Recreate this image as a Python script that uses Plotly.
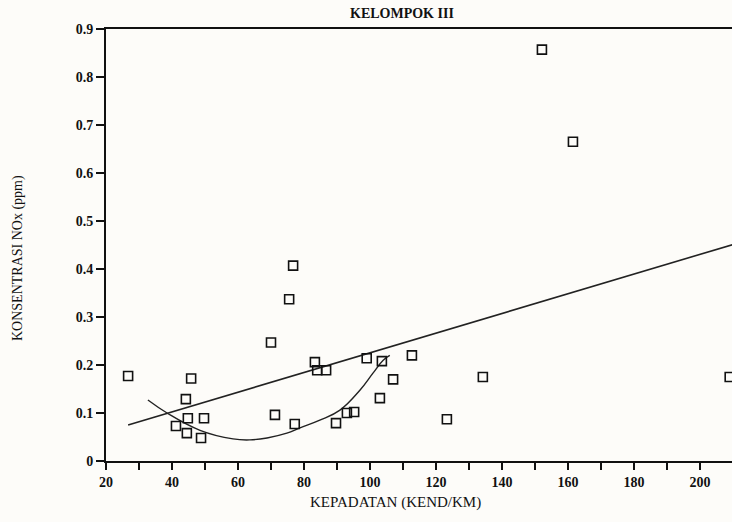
import plotly.graph_objects as go

# Kepadatan lalu lintas (kend/km) vs konsentrasi NOx, kelompok III
kepadatan = [26.7, 41.2, 44.2, 44.8, 44.5, 45.8, 48.8, 49.7, 70.0, 71.2,
             75.5, 76.7, 77.2, 83.3, 84.0, 86.7, 89.7, 93.0, 95.2, 99.0,
             103.6, 107.0, 103.0, 112.7, 123.3, 134.2, 152.1, 161.5, 209.0]
konsentrasi = [0.177, 0.073, 0.129, 0.089, 0.058, 0.172, 0.048, 0.089, 0.247, 0.096,
               0.337, 0.407, 0.077, 0.206, 0.189, 0.189, 0.079, 0.100, 0.102, 0.214,
               0.208, 0.170, 0.131, 0.220, 0.087, 0.175, 0.857, 0.665, 0.175]

# garis regresi linier (ujung-ujung garis)
linier_x = [26.7, 210.0]
linier_y = [0.075, 0.451]

# kurva regresi non-linier
kurva_x = [32.7, 38.5, 48.5, 58.5, 63.6, 68.8, 74.8, 78.8, 84.8, 90.9, 97.0, 100.9, 104.0, 106.0]
kurva_y = [0.127, 0.100, 0.064, 0.046, 0.044, 0.048, 0.058, 0.069, 0.085, 0.106, 0.148, 0.183, 0.210, 0.220]

x_ticks = [20, 40, 60, 80, 100, 120, 140, 160, 180, 200]
y_ticks = [0, 0.1, 0.2, 0.3, 0.4, 0.5, 0.6, 0.7, 0.8, 0.9]

fig = go.Figure()
fig.add_trace(go.Scatter(x=linier_x, y=linier_y, mode="lines",
                         line=dict(color="#222", width=1.6), hoverinfo="skip"))
fig.add_trace(go.Scatter(x=kurva_x, y=kurva_y, mode="lines",
                         line=dict(color="#222", width=1.4, shape="spline", smoothing=1.2),
                         hoverinfo="skip"))
fig.add_trace(go.Scatter(x=kepadatan, y=konsentrasi, mode="markers", cliponaxis=False,
                         marker=dict(symbol="square-open", size=9, color="#111",
                                     line=dict(width=1.6, color="#111"))))

serif = "Liberation Serif, DejaVu Serif, serif"
fig.update_layout(
    width=732, height=522,
    margin=dict(l=106, r=0, t=29, b=61),
    paper_bgcolor="#fdfcf9", plot_bgcolor="#fdfcf9",
    showlegend=False,
    font=dict(family=serif, color="#111"),
    xaxis=dict(range=[20, 209.7], tickvals=x_ticks, ticks="outside", ticklen=7,
               tickwidth=1.5, tickcolor="#111", showline=True, linecolor="#111",
               linewidth=1.8, mirror=True, showgrid=False, zeroline=False,
               minor=dict(dtick=10, tick0=0, ticks="outside", ticklen=7,
                          tickwidth=1.5, tickcolor="#111"),
               tickfont=dict(size=14, family=serif, color="#111", weight="bold"),
               ticklabelstandoff=0),
    yaxis=dict(range=[0, 0.9], tickvals=y_ticks, ticks="outside", ticklen=8,
               tickwidth=1.5, tickcolor="#111", showline=True, linecolor="#111",
               linewidth=1.8, showgrid=False, zeroline=False,
               tickfont=dict(size=14, family=serif, color="#111", weight="bold")),
    annotations=[
        dict(text="<b>KELOMPOK III</b>", x=402, y=14, showarrow=False,
             font=dict(size=14, family=serif)),
        dict(text="KEPADATAN (KEND/KM)", x=395, y=502, showarrow=False,
             font=dict(size=15, family=serif)),
        dict(text="KONSENTRASI NOx (ppm)", x=18, y=258, textangle=-90,
             showarrow=False, font=dict(size=14, family=serif)),
    ],
)

# letak teks dalam piksel: konversi ke koordinat kertas
W, H = 732, 522
pw, ph = W - 106 - 0, H - 29 - 61
for a in fig.layout.annotations:
    px, py = a.x, a.y
    a.xref = "paper"
    a.yref = "paper"
    a.x = (px - 106) / pw
    a.y = (H - 61 - py) / ph
    a.xanchor = "center"
    a.yanchor = "middle"

fig.write_html("out.html")
